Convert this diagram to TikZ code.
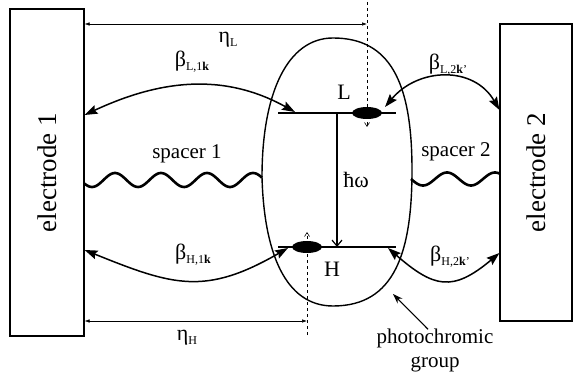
\documentclass[tikz,border=0pt]{standalone}
\usepackage{fontspec}
\setmainfont{Liberation Serif}
\usetikzlibrary{arrows.meta,shapes.geometric,positioning,calc}
\newcommand{\lsub}[1]{\raisebox{-4pt}{\fontsize{12}{12}\selectfont #1}}

\begin{document}
\begin{tikzpicture}[x=1pt, y=1pt,
  lbl/.style  ={font=\fontsize{22}{24}\selectfont, inner sep=1pt},
  elec/.style ={draw, line width=1.1pt, rotate=90, font=\fontsize{27}{30}\selectfont},
  lvl/.style  ={line width=1.5pt},
  dot/.style  ={ellipse, fill=black, minimum width=30pt, minimum height=12pt, inner sep=0pt},
  hop/.style  ={{Stealth[length=13pt,width=9pt,inset=2pt]}-{Stealth[length=13pt,width=9pt,inset=2pt]},
                line width=1.5pt},
  dist/.style ={{Latex[length=5pt,width=3.5pt]}-{Latex[length=5pt,width=3.5pt]}, line width=0.6pt},
  guide/.style={dashed, line width=0.6pt, -{Straight Barb[length=4pt,width=5pt]}},
  wave/.style ={line width=2.6pt}]

\useasboundingbox (0,0) rectangle (575,372);

% electrodes (rotated: south = right side, north = left side)
\node[elec, minimum width=327pt, minimum height=74pt] (el1) at (47,199.5) {electrode 1};
\node[elec, minimum width=297pt, minimum height=72pt] (el2) at (536,199.5) {electrode 2};

% photochromic group
\coordinate (gtop) at (333,334); \coordinate (gright) at (412,202);
\coordinate (gbot) at (333,66);  \coordinate (gleft) at (262,195);
\draw[line width=1.4pt] (gtop) .. controls (390,334) and (412,290) .. (gright)
  .. controls (412,120) and (395,66) .. (gbot)
  .. controls (285,66) and (264,120) .. (gleft)
  .. controls (262,280) and (288,334) .. (gtop) -- cycle;

% spacers
\draw[wave] plot[domain=84.5:262, samples=120, smooth] (\x, {192+7*cos(7.826*(\x-115))});
\draw[wave] plot[domain=411:499.5, samples=80, smooth] (\x, {193+6.5*cos(7.5*(\x-447))});
\node[lbl, font=\fontsize{21}{24}\selectfont] (sp1) at (187,218) {spacer 1};
\node[lbl, font=\fontsize{21}{24}\selectfont] (sp2) at (456,220) {spacer 2};

% levels
\coordinate (L1) at (278,259); \coordinate (L2) at (396,259);
\coordinate (H1) at (278,125); \coordinate (H2) at (396,125);
\draw[lvl] (L1) -- (L2);
\draw[lvl] (H1) -- (H2);
\node[lbl] (Ltxt) at (344,280) {L};
\node[lbl] (Htxt) at (332,103) {H};
\coordinate (Lw) at (337,259); \coordinate (Hw) at (337,125);
\draw[line width=1.2pt, -{Straight Barb[length=6pt,width=10pt]}] (Lw) -- (Hw);
\node[lbl] (hw) at (356,192) {ħω};

% guides
\coordinate (gLtop) at (367,370); \coordinate (gLend) at (367,245);
\coordinate (gHbot) at (307,37);  \coordinate (gHend) at (307,140);
\draw[guide] (gLtop) -- (gLend);
\draw[guide] (gHbot) -- (gHend);

% electrons
\node[dot] (eL) at (367,259) {};
\node[dot] (eH) at (307,125) {};

% distances
\coordinate (dL) at (367,348); \coordinate (dH) at (307,51);
\draw[dist] (el1.south |- dL) -- (dL);
\draw[dist] (el1.south |- dH) -- (dH);
\node[lbl] (etaL) at (228,332) {η\lsub{L}};
\node[lbl] (etaH) at (187,34) {η\lsub{H}};

% couplings
\coordinate (aL1) at (295,260); \coordinate (aL2) at (385,265);
\coordinate (aH1) at (288,124); \coordinate (aH2) at (388,124);
\draw[hop] (el1.south |- 0,257) to[out=25, in=151] (aL1);
\draw[hop] (aL2) to[out=50, in=120, looseness=1.15] (el2.north |- 0,262);
\draw[hop] (el1.south |- 0,122) to[out=-22, in=-150, looseness=1.2] (aH1);
\draw[hop] (aH2) to[out=-41, in=-140, looseness=1.4] (el2.north |- 0,119);
\node[lbl] (bL1) at (192,310) {β\lsub{L,1\textbf{k}}};
\node[lbl] (bL2) at (448,307) {β\lsub{L,2\textbf{k}'}};
\node[lbl] (bH1) at (193,117) {β\lsub{H,1\textbf{k}}};
\node[lbl] (bH2) at (450,115) {β\lsub{H,2\textbf{k}'}};

% label of the group
\node[lbl, font=\fontsize{21}{24}\selectfont, align=center] (pcg) at (435,22) {photochromic\\group};
\coordinate (pcgtip) at (393,78);
\draw[line width=1.1pt, -{Stealth[length=10pt,width=7pt]}] ($(pcg.north)+(-7,-2)$) -- (pcgtip);
\end{tikzpicture}
\end{document}
